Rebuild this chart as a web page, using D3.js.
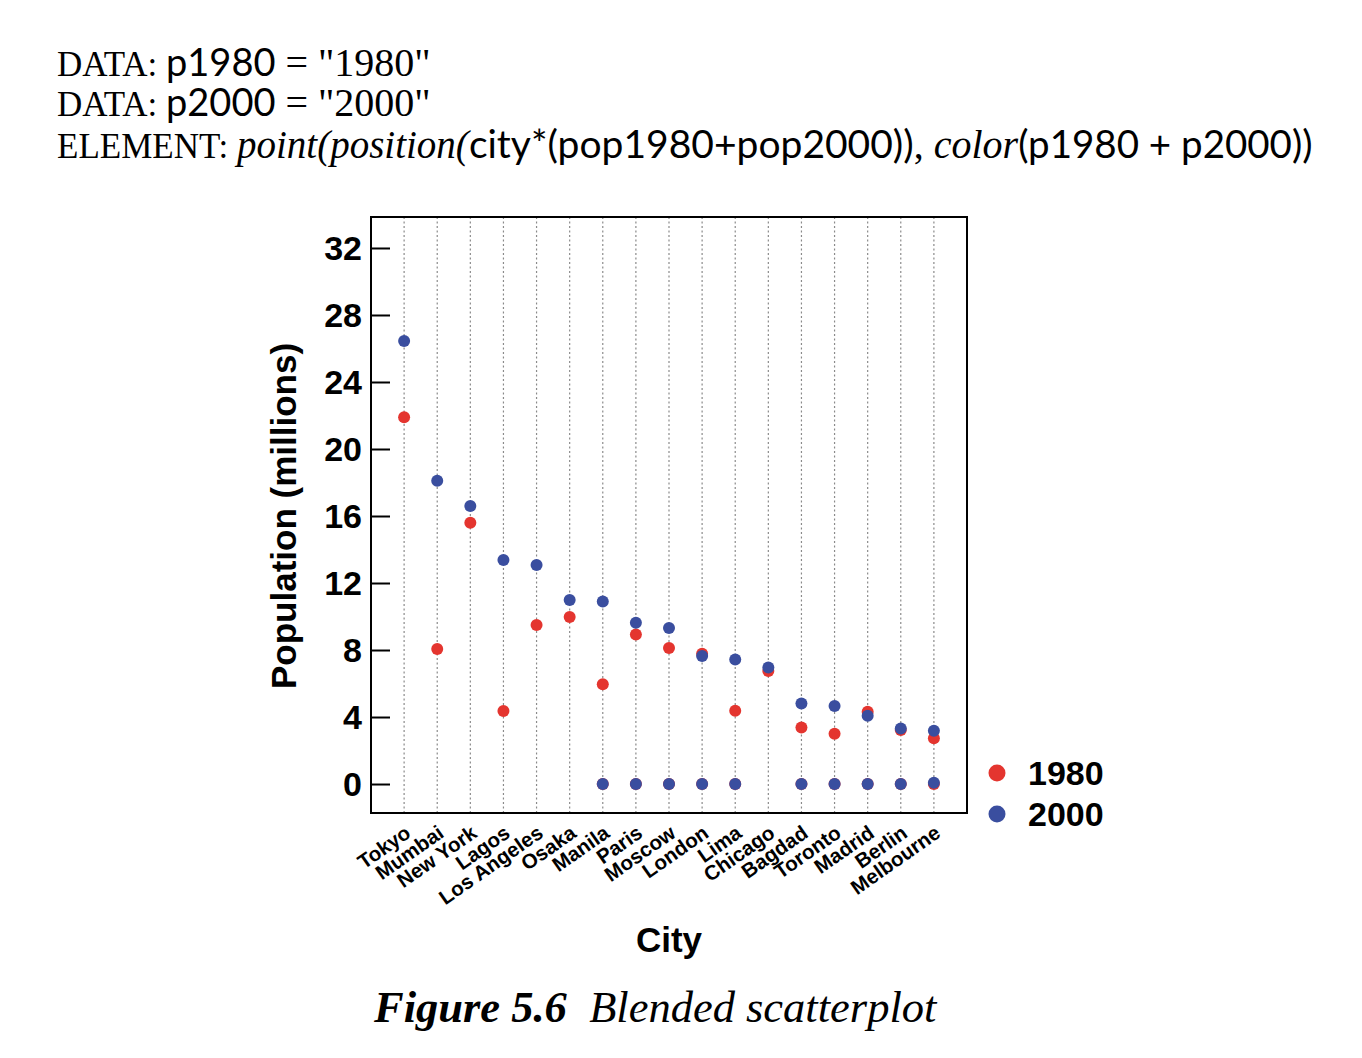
<!DOCTYPE html>
<html>
<head>
<meta charset="UTF-8">
<title>Blended scatterplot - D3.js</title>
<script src="https://d3js.org/d3.v7.min.js"></script>
<style>
    body { margin: 0; background: white; }
    .serif { font-family: "Liberation Serif", "Times New Roman", serif; }
    .gill { font-family: "Lato", "Open Sans", sans-serif; }
    .chart text { font-family: "Liberation Sans", Arial, sans-serif; font-weight: bold; }
</style>
</head>
<body>
<div id="chart"></div>
<script>
    // dati
    var cities = ["Tokyo", "Mumbai", "New York", "Lagos", "Los Angeles", "Osaka", "Manila", "Paris",
        "Moscow", "London", "Lima", "Chicago", "Bagdad", "Toronto", "Madrid", "Berlin", "Melbourne"];
    var pop1980 = [21.9, 8.06, 15.6, 4.36, 9.49, 9.97, 5.95, 8.93, 8.12, 7.78, 4.38, 6.75, 3.37, 3.0, 4.32, 3.22, 2.73];
    var pop2000 = [26.45, 18.1, 16.6, 13.37, 13.07, 10.98, 10.9, 9.63, 9.31, 7.64, 7.44, 6.95, 4.8, 4.66, 4.08, 3.32, 3.18];
    // punti "blended" a zero
    var zeroCities1980 = ["Manila", "Paris", "Moscow", "London", "Lima", "Bagdad", "Toronto", "Madrid", "Berlin", "Melbourne"];
    var zeroValues1980 = [0, 0, 0, 0, 0, 0, 0, 0, 0, 0];
    var zeroCities2000 = ["Manila", "Paris", "Moscow", "London", "Lima", "Bagdad", "Toronto", "Madrid", "Berlin", "Melbourne"];
    var zeroValues2000 = [0, 0, 0, 0, 0, 0, 0, 0, 0, 0.08];
    var yTicks = [0, 4, 8, 12, 16, 20, 24, 28, 32];
    var series = ["1980", "2000"];

    var red = "#e4352f";
    var blue = "#3a4e9f";

    var W = 1362, H = 1058;
    var frame = { left: 371, top: 217, right: 967, bottom: 813 };

    var svg = d3.select("#chart").append("svg")
        .attr("width", W)
        .attr("height", H);

    // testo in alto
    var head = svg.append("g");
    function riga(y, parts) {
        var t = head.append("text").attr("x", 57).attr("y", y);
        parts.forEach(function (p) {
            t.append("tspan")
                .attr("class", p[1])
                .style("font-size", p[2] + "px")
                .style("font-style", p[3] ? "italic" : "normal")
                .text(p[0]);
        });
        return t;
    }
    riga(76, [["DATA: ", "serif", 35], ["p1980", "gill", 38], [" = \"1980\"", "serif", 40]]);
    riga(116, [["DATA: ", "serif", 35], ["p2000", "gill", 38], [" = \"2000\"", "serif", 40]]);
    riga(158, [["ELEMENT: ", "serif", 35], ["point(position(", "serif", 39, true],
        ["city*(pop1980+pop2000))", "gill", 39], [", ", "serif", 40], ["color", "serif", 40, true],
        ["(p1980 + p2000))", "gill", 38.5]]);

    var g = svg.append("g").attr("class", "chart");

    var x = d3.scalePoint()
        .domain(cities)
        .range([frame.left, frame.right])
        .padding(1);

    var y = d3.scaleLinear()
        .domain([-1.73, 33.85])
        .range([frame.bottom, frame.top]);

    // griglia verticale tratteggiata
    g.selectAll(".grid")
        .data(cities)
        .enter()
        .append("line")
        .attr("class", "grid")
        .attr("x1", function (d) { return x(d); })
        .attr("x2", function (d) { return x(d); })
        .attr("y1", frame.top)
        .attr("y2", frame.bottom)
        .style("stroke", "#8a8a8a")
        .style("stroke-width", 1.2)
        .style("stroke-dasharray", "2,2.5");

    // asse y con tacche interne
    var yAxis = d3.axisRight(y).tickValues(yTicks).tickSize(19).tickFormat("");
    g.append("g")
        .attr("transform", "translate(" + frame.left + ",0)")
        .call(yAxis)
        .call(function (a) { a.select(".domain").remove(); })
        .selectAll("line")
        .style("stroke", "black")
        .style("stroke-width", 2);

    g.selectAll(".ylab")
        .data(yTicks)
        .enter()
        .append("text")
        .attr("class", "ylab")
        .attr("x", 362)
        .attr("y", function (d) { return y(d); })
        .attr("dy", "0.36em")
        .attr("text-anchor", "end")
        .style("font-size", "34px")
        .text(function (d) { return d; });

    // cornice
    g.append("rect")
        .attr("x", frame.left)
        .attr("y", frame.top)
        .attr("width", frame.right - frame.left)
        .attr("height", frame.bottom - frame.top)
        .style("fill", "none")
        .style("stroke", "black")
        .style("stroke-width", 2);

    // punti: prima 1980 poi 2000
    var pts1980 = cities.map(function (c, i) { return { city: c, v: pop1980[i] }; })
        .concat(zeroCities1980.map(function (c, i) { return { city: c, v: zeroValues1980[i] }; }));
    var pts2000 = cities.map(function (c, i) { return { city: c, v: pop2000[i] }; })
        .concat(zeroCities2000.map(function (c, i) { return { city: c, v: zeroValues2000[i] }; }));

    g.selectAll(".p1980")
        .data(pts1980)
        .enter()
        .append("circle")
        .attr("class", "p1980")
        .attr("cx", function (d) { return x(d.city); })
        .attr("cy", function (d) { return y(d.v); })
        .attr("r", 6)
        .style("fill", red);

    g.selectAll(".p2000")
        .data(pts2000)
        .enter()
        .append("circle")
        .attr("class", "p2000")
        .attr("cx", function (d) { return x(d.city); })
        .attr("cy", function (d) { return y(d.v); })
        .attr("r", 6)
        .style("fill", blue);

    // etichette città ruotate
    g.selectAll(".xlab")
        .data(cities)
        .enter()
        .append("text")
        .attr("class", "xlab")
        .attr("text-anchor", "end")
        .attr("transform", function (d) { return "translate(" + (x(d) + 8) + "," + (frame.bottom + 23) + ") rotate(-35)"; })
        .style("font-size", "20.5px")
        .text(function (d) { return d; });

    // titoli assi
    g.append("text")
        .attr("x", 669)
        .attr("y", 952)
        .attr("text-anchor", "middle")
        .style("font-size", "35px")
        .text("City");

    g.append("text")
        .attr("transform", "translate(296,516) rotate(-90)")
        .attr("text-anchor", "middle")
        .style("font-size", "35px")
        .text("Population (millions)");

    // legenda
    var colori = [red, blue];
    var leg = g.selectAll(".leg")
        .data(series)
        .enter()
        .append("g")
        .attr("class", "leg")
        .attr("transform", function (d, i) { return "translate(997," + (773 + i * 41) + ")"; });
    leg.append("circle")
        .attr("r", 8.5)
        .style("fill", function (d, i) { return colori[i]; });
    leg.append("text")
        .attr("x", 31)
        .attr("dy", "0.36em")
        .style("font-size", "34px")
        .text(function (d) { return d; });

    // didascalia
    var cap = svg.append("text")
        .attr("class", "serif")
        .attr("x", 374)
        .attr("y", 1022)
        .style("font-style", "italic")
        .style("font-size", "44.5px");
    cap.append("tspan").style("font-weight", "bold").text("Figure 5.6");
    cap.append("tspan").text("\u00a0\u00a0Blended scatterplot");
</script>
</body>
</html>
